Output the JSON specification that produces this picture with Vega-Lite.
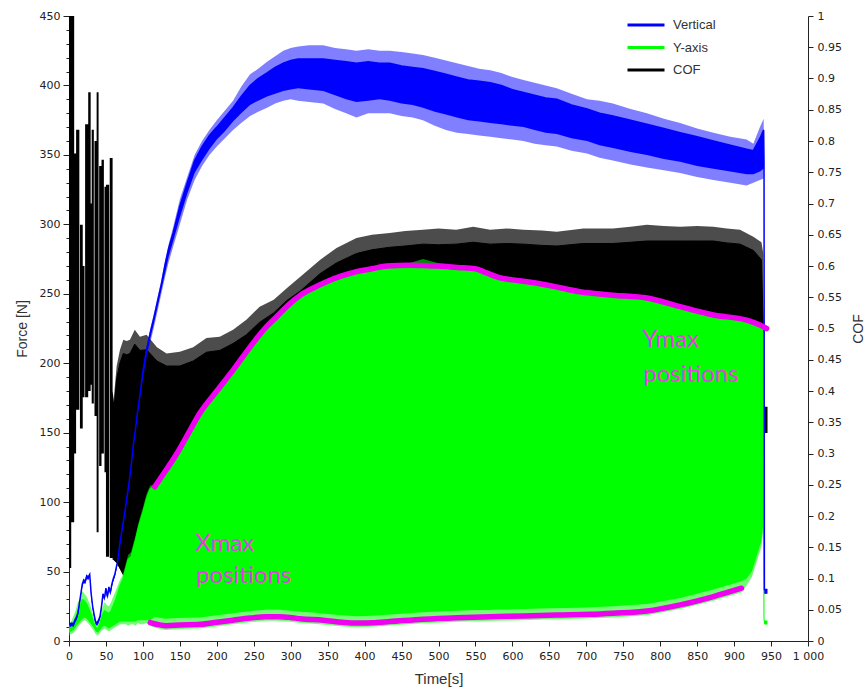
{
"$schema": "https://vega.github.io/schema/vega-lite/v6.json",
"width": 739, "height": 625,
"autosize": "none",
"padding": {"left": 69, "top": 16, "right": 60, "bottom": 50},
"background": "white",
"config": {"view": {"stroke": null}, "axis": {"grid": false, "domainColor": "#222", "tickColor": "#222", "labelColor": "#222", "titleColor": "#333", "labelFont": "DejaVu Sans", "labelFontSize": 11, "titleFont": "Liberation Sans", "titleFontSize": 14, "titleFontWeight": "normal", "labelFlush": false, "labelOverlap": false}},
"datasets": {
"cofEarly": [
{"t":0,"lo":0.117,"hi":1},{"t":3,"lo":0.117,"hi":1},{"t":3.01,"lo":0.19,"hi":1},{"t":7,"lo":0.19,"hi":1},{"t":7.01,"lo":0.30,"hi":0.78},{"t":9.6,"lo":0.30,"hi":0.78},{"t":9.61,"lo":0.37,"hi":0.818},{"t":14,"lo":0.37,"hi":0.818},{"t":14.01,"lo":0.55,"hi":0.55},{"t":14.8,"lo":0.55,"hi":0.55},{"t":14.81,"lo":0.34,"hi":0.666},{"t":18.6,"lo":0.34,"hi":0.666},{"t":18.61,"lo":0.39,"hi":0.60},{"t":21,"lo":0.39,"hi":0.60},{"t":21.01,"lo":0.55,"hi":0.55},{"t":21.8,"lo":0.55,"hi":0.55},{"t":21.81,"lo":0.39,"hi":0.827},{"t":26,"lo":0.39,"hi":0.827},{"t":26.01,"lo":0.40,"hi":0.878},{"t":29.3,"lo":0.40,"hi":0.878},{"t":29.31,"lo":0.41,"hi":0.70},{"t":30.7,"lo":0.41,"hi":0.70},{"t":30.71,"lo":0.38,"hi":0.818},{"t":33.6,"lo":0.38,"hi":0.818},{"t":33.61,"lo":0.55,"hi":0.55},{"t":34.5,"lo":0.55,"hi":0.55},{"t":34.51,"lo":0.36,"hi":0.80},{"t":37.4,"lo":0.36,"hi":0.80},{"t":37.41,"lo":0.174,"hi":0.878},{"t":40,"lo":0.174,"hi":0.878},{"t":40.01,"lo":0.55,"hi":0.55},{"t":40.8,"lo":0.55,"hi":0.55},{"t":40.81,"lo":0.28,"hi":0.76},{"t":44,"lo":0.28,"hi":0.76},{"t":44.01,"lo":0.30,"hi":0.77},{"t":47.2,"lo":0.30,"hi":0.77},{"t":47.21,"lo":0.55,"hi":0.55},{"t":48,"lo":0.55,"hi":0.55},{"t":48.01,"lo":0.27,"hi":0.727},{"t":50,"lo":0.27,"hi":0.727},{"t":50.01,"lo":0.135,"hi":0.73},{"t":54.3,"lo":0.135,"hi":0.73},{"t":54.31,"lo":0.55,"hi":0.55},{"t":55.1,"lo":0.55,"hi":0.55},{"t":55.11,"lo":0.133,"hi":0.773},{"t":59,"lo":0.133,"hi":0.773},{"t":59.01,"lo":0.13,"hi":0.40},{"t":61,"lo":0.13,"hi":0.38}
],
"cof": [
{"t":60,"lo":0.13,"hi":0.38,"clo":0.13,"chi":0.36},{"t":64.5,"lo":0.125,"hi":0.44,"clo":0.125,"chi":0.42},{"t":69,"lo":0.115,"hi":0.466,"clo":0.115,"chi":0.445},{"t":73.5,"lo":0.105,"hi":0.482,"clo":0.105,"chi":0.46},{"t":78,"lo":0.10,"hi":0.48,"clo":0.10,"chi":0.458},{"t":82.5,"lo":0.10,"hi":0.482,"clo":0.10,"chi":0.46},{"t":89,"lo":0.08,"hi":0.498,"clo":0.08,"chi":0.475},{"t":96,"lo":0.08,"hi":0.487,"clo":0.08,"chi":0.465},{"t":105,"lo":0.12,"hi":0.49,"clo":0.12,"chi":0.466},{"t":119,"lo":0.15,"hi":0.47,"clo":0.15,"chi":0.448},{"t":132,"lo":0.15,"hi":0.46,"clo":0.15,"chi":0.44},{"t":150,"lo":0.15,"hi":0.463,"clo":0.15,"chi":0.44},{"t":168,"lo":0.15,"hi":0.47,"clo":0.15,"chi":0.448},{"t":186,"lo":0.15,"hi":0.485,"clo":0.15,"chi":0.462},{"t":204,"lo":0.15,"hi":0.487,"clo":0.15,"chi":0.465},{"t":222,"lo":0.15,"hi":0.498,"clo":0.15,"chi":0.476},{"t":240,"lo":0.15,"hi":0.514,"clo":0.15,"chi":0.49},{"t":258,"lo":0.15,"hi":0.535,"clo":0.15,"chi":0.51},{"t":277,"lo":0.15,"hi":0.546,"clo":0.15,"chi":0.525},{"t":295,"lo":0.15,"hi":0.565,"clo":0.15,"chi":0.545},{"t":313,"lo":0.15,"hi":0.583,"clo":0.15,"chi":0.56},{"t":340,"lo":0.15,"hi":0.61,"clo":0.15,"chi":0.588},{"t":362,"lo":0.15,"hi":0.629,"clo":0.15,"chi":0.605},{"t":389,"lo":0.15,"hi":0.645,"clo":0.15,"chi":0.62},{"t":410,"lo":0.15,"hi":0.65,"clo":0.15,"chi":0.626},{"t":434,"lo":0.15,"hi":0.653,"clo":0.15,"chi":0.63},{"t":455,"lo":0.15,"hi":0.656,"clo":0.15,"chi":0.632},{"t":479,"lo":0.15,"hi":0.658,"clo":0.15,"chi":0.635},{"t":500,"lo":0.15,"hi":0.66,"clo":0.15,"chi":0.634},{"t":524,"lo":0.15,"hi":0.658,"clo":0.15,"chi":0.635},{"t":547,"lo":0.15,"hi":0.663,"clo":0.15,"chi":0.638},{"t":570,"lo":0.15,"hi":0.658,"clo":0.15,"chi":0.635},{"t":592,"lo":0.15,"hi":0.66,"clo":0.15,"chi":0.636},{"t":615,"lo":0.15,"hi":0.658,"clo":0.15,"chi":0.635},{"t":640,"lo":0.15,"hi":0.657,"clo":0.15,"chi":0.633},{"t":660,"lo":0.15,"hi":0.655,"clo":0.15,"chi":0.632},{"t":696,"lo":0.15,"hi":0.66,"clo":0.15,"chi":0.636},{"t":736,"lo":0.15,"hi":0.66,"clo":0.15,"chi":0.636},{"t":760,"lo":0.15,"hi":0.663,"clo":0.15,"chi":0.638},{"t":782,"lo":0.15,"hi":0.666,"clo":0.15,"chi":0.64},{"t":805,"lo":0.15,"hi":0.664,"clo":0.15,"chi":0.64},{"t":827,"lo":0.15,"hi":0.663,"clo":0.15,"chi":0.64},{"t":850,"lo":0.15,"hi":0.664,"clo":0.15,"chi":0.64},{"t":872,"lo":0.15,"hi":0.663,"clo":0.15,"chi":0.64},{"t":890,"lo":0.15,"hi":0.66,"clo":0.15,"chi":0.637},{"t":908,"lo":0.2,"hi":0.658,"clo":0.2,"chi":0.635},{"t":926,"lo":0.25,"hi":0.647,"clo":0.25,"chi":0.625},{"t":937,"lo":0.25,"hi":0.638,"clo":0.25,"chi":0.61},{"t":939.5,"lo":0.3,"hi":0.62,"clo":0.3,"chi":0.5},{"t":940.5,"lo":0.333,"hi":0.374,"clo":0.333,"chi":0.374},{"t":945,"lo":0.333,"hi":0.374,"clo":0.333,"chi":0.374}
],
"green": [
{"t":0,"lo":4,"hi":12,"clo":6,"chi":9},{"t":3,"lo":5,"hi":14,"clo":7,"chi":10},{"t":6,"lo":6,"hi":18,"clo":8,"chi":13},{"t":9,"lo":8,"hi":22,"clo":10,"chi":17},{"t":12,"lo":10,"hi":28,"clo":12,"chi":22},{"t":15,"lo":12,"hi":30,"clo":14,"chi":25},{"t":18,"lo":14,"hi":36,"clo":16,"chi":30},{"t":21,"lo":15,"hi":34,"clo":17,"chi":29},{"t":24,"lo":14,"hi":32,"clo":16,"chi":27},{"t":27,"lo":12,"hi":28,"clo":14,"chi":23},{"t":30,"lo":10,"hi":24,"clo":12,"chi":19},{"t":33,"lo":8,"hi":18,"clo":10,"chi":14},{"t":36,"lo":5,"hi":14,"clo":7,"chi":10},{"t":39,"lo":4,"hi":12,"clo":6,"chi":9},{"t":42,"lo":6,"hi":18,"clo":8,"chi":13},{"t":45,"lo":8,"hi":24,"clo":10,"chi":19},{"t":48,"lo":9,"hi":28,"clo":11,"chi":22},{"t":51,"lo":8,"hi":26,"clo":10,"chi":21},{"t":54,"lo":7,"hi":25,"clo":9,"chi":20},{"t":57,"lo":8,"hi":28,"clo":10,"chi":22},{"t":60,"lo":9,"hi":32,"clo":11,"chi":26},{"t":63,"lo":10,"hi":36,"clo":12,"chi":30},{"t":66,"lo":11,"hi":40,"clo":13,"chi":35},{"t":69,"lo":12,"hi":44,"clo":14,"chi":40},{"t":73,"lo":12,"hi":48,"clo":14,"chi":45},{"t":77,"lo":12,"hi":56,"clo":14,"chi":53},{"t":80,"lo":11,"hi":62,"clo":14,"chi":59},{"t":84,"lo":12,"hi":64,"clo":14,"chi":61},{"t":87,"lo":12,"hi":70,"clo":14,"chi":67},{"t":90,"lo":11,"hi":76,"clo":14,"chi":73},{"t":93,"lo":13,"hi":83,"clo":15,"chi":80},{"t":96,"lo":12,"hi":89,"clo":15,"chi":86},{"t":100,"lo":12,"hi":96,"clo":15,"chi":93},{"t":105,"lo":13,"hi":106,"clo":15,"chi":103},{"t":110,"lo":11,"hi":112,"clo":15,"chi":110},
{"t":116,"lo":9.5,"hi":112.5,"clo":17.5,"chi":111},{"t":130,"lo":8,"hi":123.5,"clo":16,"chi":122},{"t":146,"lo":8.5,"hi":136.5,"clo":16.5,"chi":135},{"t":160,"lo":8.8,"hi":149.5,"clo":16.8,"chi":148},{"t":177,"lo":9,"hi":165.5,"clo":17,"chi":164},{"t":200,"lo":10.5,"hi":181.5,"clo":18.5,"chi":180},{"t":222,"lo":12,"hi":196.5,"clo":20,"chi":195},{"t":249,"lo":13.7,"hi":216,"clo":21.7,"chi":214.5},{"t":265,"lo":14.5,"hi":226.5,"clo":22.5,"chi":225},{"t":281,"lo":14.6,"hi":235,"clo":22.6,"chi":233.5},{"t":297,"lo":14,"hi":243.5,"clo":22,"chi":242},{"t":313,"lo":13,"hi":250.5,"clo":21,"chi":249},{"t":330,"lo":12.5,"hi":255.5,"clo":20.5,"chi":254},{"t":350,"lo":11.5,"hi":260.5,"clo":19.5,"chi":259},{"t":370,"lo":10.5,"hi":264.5,"clo":18.5,"chi":263},{"t":389,"lo":9.9,"hi":267.5,"clo":17.9,"chi":266},{"t":410,"lo":10.2,"hi":269.5,"clo":18.2,"chi":268},{"t":430,"lo":10.9,"hi":271.5,"clo":18.9,"chi":270},{"t":460,"lo":12,"hi":272,"clo":20,"chi":270.5},{"t":479,"lo":12.7,"hi":275,"clo":20.7,"chi":270.3},{"t":500,"lo":13.2,"hi":272,"clo":21.2,"chi":270},{"t":525,"lo":13.8,"hi":270.5,"clo":21.8,"chi":269},{"t":550,"lo":14.3,"hi":269.5,"clo":22.3,"chi":268},{"t":565,"lo":14.4,"hi":266.5,"clo":22.4,"chi":265},{"t":580,"lo":14.6,"hi":263.5,"clo":22.6,"chi":262},{"t":600,"lo":14.8,"hi":261.5,"clo":22.8,"chi":260},{"t":615,"lo":15,"hi":260.5,"clo":23,"chi":259},{"t":650,"lo":15.6,"hi":257.5,"clo":23.6,"chi":256},{"t":691,"lo":16,"hi":253,"clo":24,"chi":251.5},{"t":736,"lo":17,"hi":250.5,"clo":25,"chi":249},{"t":782,"lo":18.6,"hi":248.5,"clo":26.6,"chi":247},{"t":827,"lo":23,"hi":242.2,"clo":31,"chi":240.7},{"t":872,"lo":29,"hi":236.2,"clo":37,"chi":234.7},{"t":910,"lo":35,"hi":233,"clo":43,"chi":231.5},{"t":917,"lo":40,"hi":232.5,"clo":45,"chi":231},{"t":924,"lo":46,"hi":230.5,"clo":50,"chi":229},{"t":931,"lo":58,"hi":229.5,"clo":62,"chi":228},{"t":937,"lo":68,"hi":227.5,"clo":72,"chi":226},{"t":939.5,"lo":80,"hi":226.5,"clo":84,"chi":225},{"t":940.5,"lo":12,"hi":15,"clo":12.5,"chi":14.5},{"t":945,"lo":11,"hi":15,"clo":12,"chi":14}
],
"blue": [
{"t":0,"lo":12,"hi":14,"clo":12,"chi":14},{"t":2,"lo":10,"hi":12,"clo":10,"chi":12},{"t":4,"lo":11,"hi":13,"clo":11,"chi":13},{"t":6,"lo":10,"hi":12,"clo":10,"chi":12},{"t":8,"lo":13,"hi":15,"clo":13,"chi":15},{"t":10,"lo":15,"hi":17,"clo":15,"chi":17},{"t":12,"lo":18,"hi":20,"clo":18,"chi":20},{"t":14,"lo":25,"hi":27,"clo":25,"chi":27},{"t":16,"lo":32,"hi":34,"clo":32,"chi":34},{"t":18,"lo":39,"hi":41,"clo":39,"chi":41},{"t":20,"lo":42,"hi":44,"clo":42,"chi":44},{"t":22,"lo":41,"hi":43,"clo":41,"chi":43},{"t":24,"lo":45,"hi":47,"clo":45,"chi":47},{"t":26,"lo":44,"hi":46,"clo":44,"chi":46},{"t":28,"lo":46,"hi":48,"clo":46,"chi":48},{"t":30,"lo":32,"hi":34,"clo":32,"chi":34},{"t":32,"lo":23,"hi":25,"clo":23,"chi":25},{"t":34,"lo":17,"hi":19,"clo":17,"chi":19},{"t":36,"lo":12,"hi":14,"clo":12,"chi":14},{"t":38,"lo":11,"hi":13,"clo":11,"chi":13},{"t":40,"lo":13,"hi":15,"clo":13,"chi":15},{"t":42,"lo":16,"hi":18,"clo":16,"chi":18},{"t":44,"lo":23,"hi":25,"clo":23,"chi":25},{"t":46,"lo":32,"hi":34,"clo":32,"chi":34},{"t":48,"lo":29,"hi":31,"clo":29,"chi":31},{"t":50,"lo":36,"hi":38,"clo":36,"chi":38},{"t":52,"lo":30,"hi":32,"clo":30,"chi":32},{"t":54,"lo":37,"hi":39,"clo":37,"chi":39},{"t":56,"lo":33,"hi":35,"clo":33,"chi":35},{"t":58,"lo":39,"hi":41,"clo":39,"chi":41},{"t":60,"lo":43,"hi":45,"clo":43,"chi":45},{"t":62,"lo":46,"hi":48,"clo":46,"chi":48},{"t":64,"lo":51,"hi":53,"clo":51,"chi":53},{"t":66,"lo":56,"hi":58,"clo":56,"chi":58},{"t":69,"lo":69,"hi":71,"clo":69,"chi":71},{"t":72,"lo":79,"hi":81,"clo":79,"chi":81},{"t":75,"lo":89,"hi":91,"clo":89,"chi":91},{"t":78,"lo":100,"hi":102,"clo":100,"chi":102},{"t":81,"lo":111,"hi":113,"clo":111,"chi":113},{"t":84,"lo":124,"hi":126,"clo":124,"chi":126},{"t":87,"lo":139,"hi":141,"clo":139,"chi":141},{"t":90,"lo":151,"hi":153,"clo":151,"chi":153},{"t":93,"lo":164,"hi":166,"clo":164,"chi":166},{"t":96,"lo":175,"hi":177,"clo":175,"chi":177},
{"t":100,"lo":188,"hi":196,"clo":190,"chi":194},{"t":105,"lo":203,"hi":212,"clo":206,"chi":210},{"t":110,"lo":215,"hi":225,"clo":218,"chi":222},{"t":115,"lo":226,"hi":236,"clo":229,"chi":233},{"t":120,"lo":238,"hi":248,"clo":241,"chi":245},{"t":125,"lo":250,"hi":260,"clo":253,"chi":257},{"t":130,"lo":262,"hi":274,"clo":265,"chi":271},{"t":135,"lo":273,"hi":286,"clo":277,"chi":283},{"t":141,"lo":284,"hi":298,"clo":288,"chi":294},
{"t":150,"lo":300,"hi":318,"clo":305,"chi":313},{"t":160,"lo":318,"hi":334,"clo":322,"chi":330},{"t":170,"lo":332,"hi":350,"clo":337,"chi":346},{"t":180,"lo":342,"hi":360,"clo":346,"chi":356},{"t":190,"lo":350,"hi":368,"clo":354,"chi":364},{"t":200,"lo":356,"hi":375,"clo":361,"chi":370},{"t":211,"lo":362,"hi":382,"clo":367,"chi":377},{"t":222,"lo":368,"hi":389,"clo":374,"chi":384},{"t":233,"lo":373,"hi":399,"clo":380,"chi":392},{"t":245,"lo":378,"hi":408,"clo":386,"chi":400},{"t":256,"lo":381,"hi":412,"clo":389,"chi":405},{"t":268,"lo":384,"hi":417,"clo":392,"chi":409},{"t":279,"lo":387,"hi":421,"clo":394,"chi":413},{"t":290,"lo":389,"hi":425,"clo":396,"chi":416},{"t":300,"lo":390,"hi":427,"clo":397,"chi":418},{"t":310,"lo":389,"hi":428,"clo":398,"chi":419},{"t":325,"lo":388,"hi":429,"clo":397,"chi":419},{"t":344,"lo":387,"hi":429,"clo":396,"chi":419},{"t":360,"lo":383,"hi":427,"clo":393,"chi":418},{"t":375,"lo":380,"hi":426,"clo":390,"chi":417},{"t":389,"lo":377,"hi":425,"clo":388,"chi":416},{"t":405,"lo":380,"hi":426,"clo":389,"chi":417},{"t":420,"lo":380,"hi":425,"clo":390,"chi":416},{"t":434,"lo":380,"hi":425,"clo":389,"chi":416},{"t":450,"lo":378,"hi":424,"clo":387,"chi":414},{"t":465,"lo":377,"hi":423,"clo":386,"chi":413},{"t":479,"lo":375,"hi":422,"clo":384,"chi":412},{"t":495,"lo":371,"hi":420,"clo":381,"chi":410},{"t":510,"lo":368,"hi":418,"clo":379,"chi":408},{"t":525,"lo":366,"hi":416,"clo":377,"chi":406},{"t":540,"lo":365,"hi":414,"clo":375,"chi":404},{"t":555,"lo":364,"hi":412,"clo":374,"chi":403},{"t":570,"lo":363,"hi":411,"clo":373,"chi":402},{"t":585,"lo":362,"hi":409,"clo":372,"chi":400},{"t":600,"lo":361,"hi":406,"clo":371,"chi":397},{"t":615,"lo":360,"hi":404,"clo":370,"chi":395},{"t":630,"lo":358,"hi":402,"clo":368,"chi":393},{"t":645,"lo":357,"hi":400,"clo":366,"chi":391},{"t":660,"lo":356,"hi":398,"clo":365,"chi":390},{"t":680,"lo":353,"hi":394,"clo":362,"chi":386},{"t":701,"lo":351,"hi":390,"clo":360,"chi":383},{"t":718,"lo":348,"hi":389,"clo":357,"chi":380},{"t":736,"lo":346,"hi":387,"clo":355,"chi":378},{"t":760,"lo":343,"hi":383,"clo":352,"chi":375},{"t":782,"lo":341,"hi":380,"clo":350,"chi":372},{"t":805,"lo":339,"hi":376,"clo":347,"chi":369},{"t":827,"lo":337,"hi":373,"clo":345,"chi":366},{"t":850,"lo":334,"hi":369,"clo":342,"chi":363},{"t":872,"lo":332,"hi":366,"clo":340,"chi":360},{"t":895,"lo":330,"hi":363,"clo":338,"chi":357},{"t":917,"lo":328,"hi":361,"clo":336,"chi":354},{"t":926,"lo":330,"hi":358,"clo":336,"chi":353},{"t":935,"lo":332,"hi":370,"clo":338,"chi":362},{"t":940,"lo":333,"hi":376,"clo":340,"chi":368},{"t":940.5,"lo":342,"hi":346,"clo":342,"chi":345},{"t":941,"lo":34,"hi":37,"clo":34,"chi":37},{"t":945,"lo":34,"hi":37,"clo":34,"chi":37}
],
"ymax": [
{"t":116,"F":111},{"t":130,"F":122},{"t":146,"F":135},{"t":160,"F":148},{"t":177,"F":164},{"t":200,"F":180},{"t":222,"F":195},{"t":249,"F":214.5},{"t":265,"F":225},{"t":281,"F":233.5},{"t":297,"F":242},{"t":313,"F":249},{"t":330,"F":254},{"t":350,"F":259},{"t":370,"F":263},{"t":389,"F":266},{"t":410,"F":268},{"t":430,"F":270},{"t":460,"F":270.5},{"t":479,"F":270.3},{"t":500,"F":270},{"t":525,"F":269},{"t":550,"F":268},{"t":565,"F":265},{"t":580,"F":262},{"t":600,"F":260},{"t":615,"F":259},{"t":650,"F":256},{"t":691,"F":251.5},{"t":736,"F":249},{"t":782,"F":247},{"t":827,"F":240.7},{"t":872,"F":234.7},{"t":917,"F":231},{"t":935,"F":227.5},{"t":944,"F":225}
],
"xmax": [
{"t":110,"F":13.2},{"t":132,"F":11},{"t":150,"F":11.5},{"t":177,"F":12},{"t":200,"F":13.5},{"t":222,"F":15},{"t":245,"F":16.5},{"t":267,"F":17.5},{"t":285,"F":17.5},{"t":299,"F":17},{"t":313,"F":16},{"t":344,"F":15},{"t":370,"F":13.5},{"t":389,"F":12.9},{"t":410,"F":13.2},{"t":434,"F":14},{"t":479,"F":15.7},{"t":525,"F":16.8},{"t":570,"F":17.5},{"t":615,"F":18},{"t":660,"F":18.7},{"t":705,"F":19.2},{"t":736,"F":20},{"t":782,"F":21.6},{"t":827,"F":26},{"t":872,"F":32},{"t":910,"F":38}
],
"labels": [
{"t":171,"F":65,"s":"Xmax"},{"t":172,"F":41.5,"s":"positions"},{"t":776,"F":212,"s":"Ymax"},{"t":777,"F":186.7,"s":"positions"}
]
},
"encoding": {
"x": {"field": "t", "type": "quantitative", "scale": {"domain": [0, 1000], "nice": false, "zero": false},
 "axis": {"values": [0,50,100,150,200,250,300,350,400,450,500,550,600,650,700,750,800,850,900,950,1000], "labelExpr": "datum.value == 1000 ? '1 000' : datum.label", "title": "Time[s]", "tickSize": 5, "labelPadding": 4, "titlePadding": 10, "titleFontSize": 15}}
},
"layer": [
{"layer": [
 {"data": {"name": "cofEarly"}, "mark": {"type": "area", "color": "#000000", "clip": true},
  "encoding": {"y": {"field": "hi", "type": "quantitative", "scale": {"domain": [0, 1], "nice": false, "zero": false},
   "axis": {"orient": "right", "values": [0,0.05,0.1,0.15,0.2,0.25,0.3,0.35,0.4,0.45,0.5,0.55,0.6,0.65,0.7,0.75,0.8,0.85,0.9,0.95,1], "format": "~g", "title": "COF", "titleAngle": 270, "tickSize": 5, "labelPadding": 4, "titlePadding": 24}},
   "y2": {"field": "lo"}}},
 {"data": {"name": "cof"}, "mark": {"type": "area", "color": "#000000", "opacity": 0.7, "clip": true},
  "encoding": {"y": {"field": "hi", "type": "quantitative", "scale": {"domain": [0, 1], "nice": false, "zero": false},
   "axis": {"orient": "right", "values": [0,0.05,0.1,0.15,0.2,0.25,0.3,0.35,0.4,0.45,0.5,0.55,0.6,0.65,0.7,0.75,0.8,0.85,0.9,0.95,1], "format": "~g", "title": "COF", "titleAngle": 270, "tickSize": 5, "labelPadding": 4, "titlePadding": 24}}, "y2": {"field": "lo"}}},
 {"data": {"name": "cof"}, "mark": {"type": "area", "color": "#000000", "clip": true},
  "encoding": {"y": {"field": "chi", "type": "quantitative", "scale": {"domain": [0, 1], "nice": false, "zero": false},
   "axis": {"orient": "right", "values": [0,0.05,0.1,0.15,0.2,0.25,0.3,0.35,0.4,0.45,0.5,0.55,0.6,0.65,0.7,0.75,0.8,0.85,0.9,0.95,1], "format": "~g", "title": "COF", "titleAngle": 270, "tickSize": 5, "labelPadding": 4, "titlePadding": 24}}, "y2": {"field": "clo"}}},
 {"data": {"name": "cof"}, "mark": {"type": "line", "strokeWidth": 1, "clip": true},
  "encoding": {"y": {"field": "chi", "type": "quantitative", "scale": {"domain": [0, 1], "nice": false, "zero": false},
   "axis": {"orient": "right", "values": [0,0.05,0.1,0.15,0.2,0.25,0.3,0.35,0.4,0.45,0.5,0.55,0.6,0.65,0.7,0.75,0.8,0.85,0.9,0.95,1], "format": "~g", "title": "COF", "titleAngle": 270, "tickSize": 5, "labelPadding": 4, "titlePadding": 24}},
   "color": {"datum": "COF", "type": "nominal", "scale": {"domain": ["Vertical", "Y-axis", "COF"], "range": ["#0000ff", "#00ff00", "#000000"]},
    "legend": {"orient": "none", "legendX": 557, "legendY": -1, "title": null, "symbolType": "stroke", "symbolSize": 1369, "symbolStrokeWidth": 3, "clipHeight": 20, "labelFont": "Liberation Sans", "labelFontSize": 13, "labelColor": "#333", "labelOffset": 7, "rowPadding": 2.5}}}}
]},
{"layer": [
 {"data": {"name": "green"}, "mark": {"type": "area", "color": "#00ff00", "opacity": 0.55, "clip": true},
  "encoding": {"y": {"field": "hi", "type": "quantitative", "scale": {"domain": [0, 450], "nice": false, "zero": false},
   "axis": {"orient": "left", "values": [0,10,20,30,40,50,60,70,80,90,100,110,120,130,140,150,160,170,180,190,200,210,220,230,240,250,260,270,280,290,300,310,320,330,340,350,360,370,380,390,400,410,420,430,440,450], "labelExpr": "datum.value % 50 == 0 ? datum.label : ''", "tickSize": {"condition": {"test": "datum.value % 50 == 0", "value": 6}, "value": 3}, "title": "Force [N]", "labelPadding": 3, "titlePadding": 10}},
   "y2": {"field": "lo"}}},
 {"data": {"name": "green"}, "mark": {"type": "area", "color": "#00ff00", "clip": true},
  "encoding": {"y": {"field": "chi", "type": "quantitative", "scale": {"domain": [0, 450], "nice": false, "zero": false},
   "axis": {"orient": "left", "values": [0,10,20,30,40,50,60,70,80,90,100,110,120,130,140,150,160,170,180,190,200,210,220,230,240,250,260,270,280,290,300,310,320,330,340,350,360,370,380,390,400,410,420,430,440,450], "labelExpr": "datum.value % 50 == 0 ? datum.label : ''", "tickSize": {"condition": {"test": "datum.value % 50 == 0", "value": 6}, "value": 3}, "title": "Force [N]", "labelPadding": 3, "titlePadding": 10}}, "y2": {"field": "clo"}}},
 {"data": {"name": "green"}, "mark": {"type": "line", "strokeWidth": 1, "clip": true},
  "encoding": {"y": {"field": "chi", "type": "quantitative", "scale": {"domain": [0, 450], "nice": false, "zero": false},
   "axis": {"orient": "left", "values": [0,10,20,30,40,50,60,70,80,90,100,110,120,130,140,150,160,170,180,190,200,210,220,230,240,250,260,270,280,290,300,310,320,330,340,350,360,370,380,390,400,410,420,430,440,450], "labelExpr": "datum.value % 50 == 0 ? datum.label : ''", "tickSize": {"condition": {"test": "datum.value % 50 == 0", "value": 6}, "value": 3}, "title": "Force [N]", "labelPadding": 3, "titlePadding": 10}},
   "color": {"datum": "Y-axis", "type": "nominal", "scale": {"domain": ["Vertical", "Y-axis", "COF"], "range": ["#0000ff", "#00ff00", "#000000"]},
    "legend": {"orient": "none", "legendX": 557, "legendY": -1, "title": null, "symbolType": "stroke", "symbolSize": 1369, "symbolStrokeWidth": 3, "clipHeight": 20, "labelFont": "Liberation Sans", "labelFontSize": 13, "labelColor": "#333", "labelOffset": 7, "rowPadding": 2.5}}}},
 {"data": {"name": "blue"}, "mark": {"type": "area", "color": "#0000ff", "opacity": 0.5, "clip": true},
  "encoding": {"y": {"field": "hi", "type": "quantitative", "scale": {"domain": [0, 450], "nice": false, "zero": false},
   "axis": {"orient": "left", "values": [0,10,20,30,40,50,60,70,80,90,100,110,120,130,140,150,160,170,180,190,200,210,220,230,240,250,260,270,280,290,300,310,320,330,340,350,360,370,380,390,400,410,420,430,440,450], "labelExpr": "datum.value % 50 == 0 ? datum.label : ''", "tickSize": {"condition": {"test": "datum.value % 50 == 0", "value": 6}, "value": 3}, "title": "Force [N]", "labelPadding": 3, "titlePadding": 10}}, "y2": {"field": "lo"}}},
 {"data": {"name": "blue"}, "mark": {"type": "area", "color": "#0000ff", "clip": true},
  "encoding": {"y": {"field": "chi", "type": "quantitative", "scale": {"domain": [0, 450], "nice": false, "zero": false},
   "axis": {"orient": "left", "values": [0,10,20,30,40,50,60,70,80,90,100,110,120,130,140,150,160,170,180,190,200,210,220,230,240,250,260,270,280,290,300,310,320,330,340,350,360,370,380,390,400,410,420,430,440,450], "labelExpr": "datum.value % 50 == 0 ? datum.label : ''", "tickSize": {"condition": {"test": "datum.value % 50 == 0", "value": 6}, "value": 3}, "title": "Force [N]", "labelPadding": 3, "titlePadding": 10}}, "y2": {"field": "clo"}}},
 {"data": {"name": "blue"}, "mark": {"type": "line", "strokeWidth": 1.5, "clip": true},
  "encoding": {"y": {"field": "chi", "type": "quantitative", "scale": {"domain": [0, 450], "nice": false, "zero": false},
   "axis": {"orient": "left", "values": [0,10,20,30,40,50,60,70,80,90,100,110,120,130,140,150,160,170,180,190,200,210,220,230,240,250,260,270,280,290,300,310,320,330,340,350,360,370,380,390,400,410,420,430,440,450], "labelExpr": "datum.value % 50 == 0 ? datum.label : ''", "tickSize": {"condition": {"test": "datum.value % 50 == 0", "value": 6}, "value": 3}, "title": "Force [N]", "labelPadding": 3, "titlePadding": 10}},
   "color": {"datum": "Vertical", "type": "nominal", "scale": {"domain": ["Vertical", "Y-axis", "COF"], "range": ["#0000ff", "#00ff00", "#000000"]},
    "legend": {"orient": "none", "legendX": 557, "legendY": -1, "title": null, "symbolType": "stroke", "symbolSize": 1369, "symbolStrokeWidth": 3, "clipHeight": 20, "labelFont": "Liberation Sans", "labelFontSize": 13, "labelColor": "#333", "labelOffset": 7, "rowPadding": 2.5}}}},
 {"data": {"name": "ymax"}, "mark": {"type": "line", "color": "#f000f0", "strokeWidth": 5.5, "strokeCap": "round", "interpolate": "monotone"},
  "encoding": {"y": {"field": "F", "type": "quantitative", "scale": {"domain": [0, 450], "nice": false, "zero": false},
   "axis": {"orient": "left", "values": [0,10,20,30,40,50,60,70,80,90,100,110,120,130,140,150,160,170,180,190,200,210,220,230,240,250,260,270,280,290,300,310,320,330,340,350,360,370,380,390,400,410,420,430,440,450], "labelExpr": "datum.value % 50 == 0 ? datum.label : ''", "tickSize": {"condition": {"test": "datum.value % 50 == 0", "value": 6}, "value": 3}, "title": "Force [N]", "labelPadding": 3, "titlePadding": 10}}}},
 {"data": {"name": "xmax"}, "mark": {"type": "line", "color": "#f000f0", "strokeWidth": 5.5, "strokeCap": "round", "interpolate": "monotone"},
  "encoding": {"y": {"field": "F", "type": "quantitative", "scale": {"domain": [0, 450], "nice": false, "zero": false},
   "axis": {"orient": "left", "values": [0,10,20,30,40,50,60,70,80,90,100,110,120,130,140,150,160,170,180,190,200,210,220,230,240,250,260,270,280,290,300,310,320,330,340,350,360,370,380,390,400,410,420,430,440,450], "labelExpr": "datum.value % 50 == 0 ? datum.label : ''", "tickSize": {"condition": {"test": "datum.value % 50 == 0", "value": 6}, "value": 3}, "title": "Force [N]", "labelPadding": 3, "titlePadding": 10}}}},
 {"data": {"name": "labels"}, "mark": {"type": "text", "align": "left", "baseline": "alphabetic", "font": "Lato", "fontSize": 24, "color": "#e83ce8"},
  "encoding": {"y": {"field": "F", "type": "quantitative", "scale": {"domain": [0, 450], "nice": false, "zero": false},
   "axis": {"orient": "left", "values": [0,10,20,30,40,50,60,70,80,90,100,110,120,130,140,150,160,170,180,190,200,210,220,230,240,250,260,270,280,290,300,310,320,330,340,350,360,370,380,390,400,410,420,430,440,450], "labelExpr": "datum.value % 50 == 0 ? datum.label : ''", "tickSize": {"condition": {"test": "datum.value % 50 == 0", "value": 6}, "value": 3}, "title": "Force [N]", "labelPadding": 3, "titlePadding": 10}}, "text": {"field": "s"}}}
]}
],
"resolve": {"scale": {"y": "independent"}, "axis": {"y": "independent"}}
}
